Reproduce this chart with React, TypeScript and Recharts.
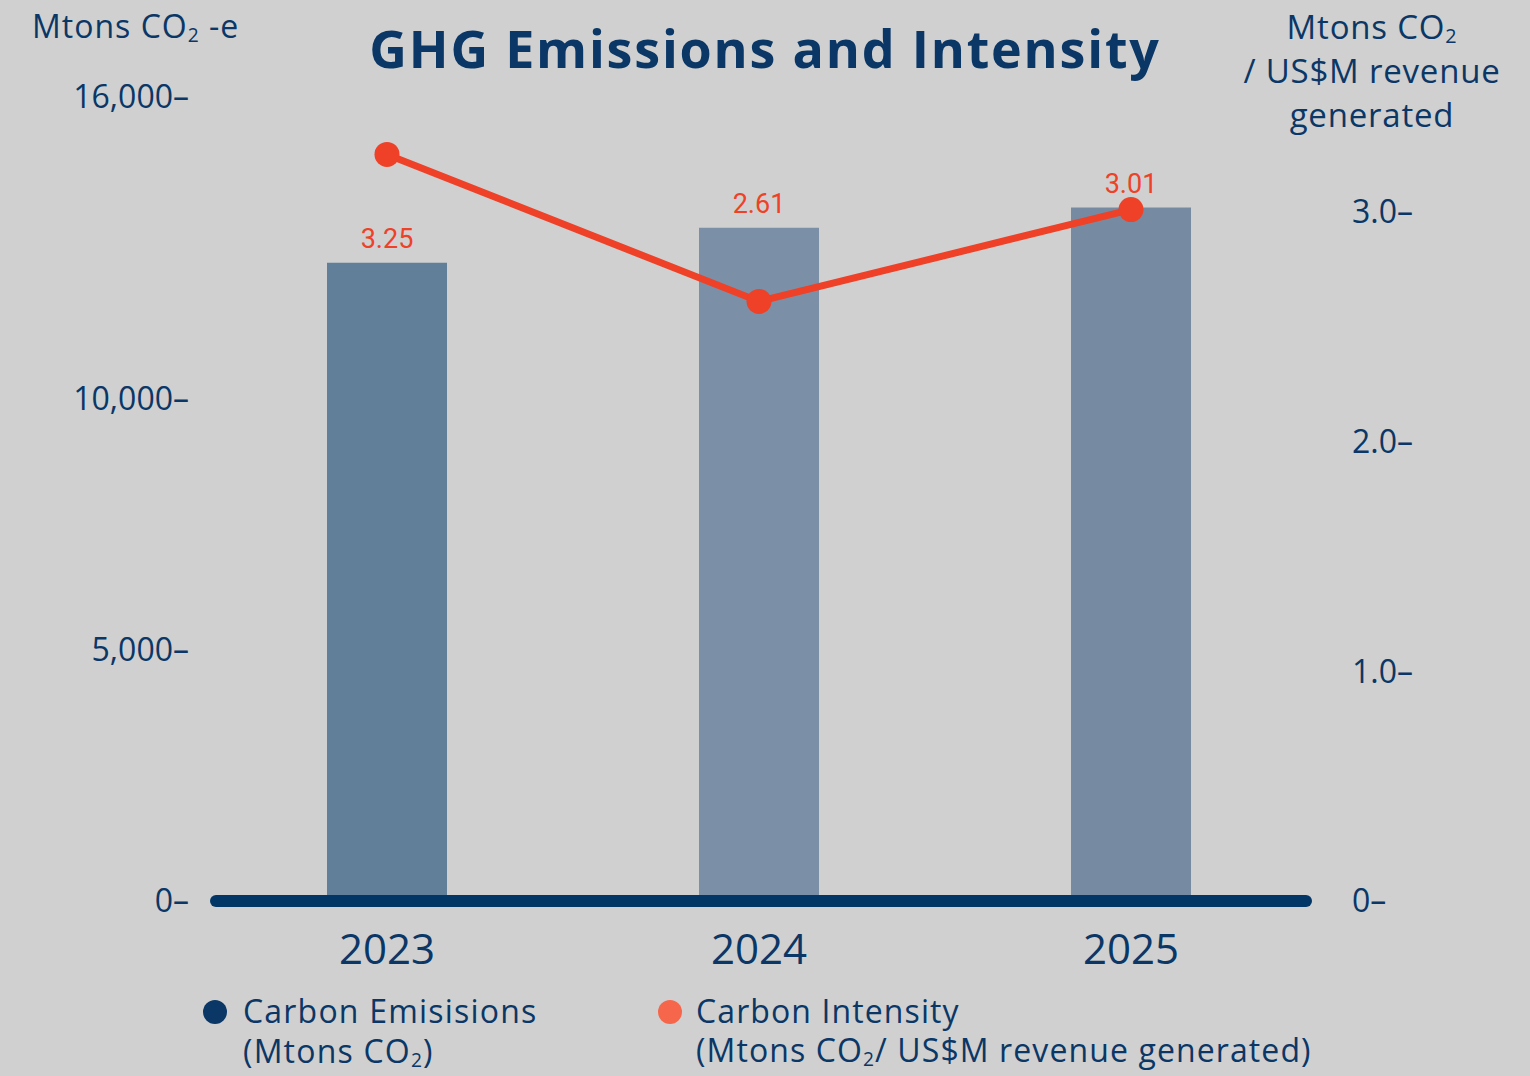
import React from "react";
import {
  Bar,
  Cell,
  ComposedChart,
  LabelList,
  Legend,
  Line,
  ReferenceLine,
  XAxis,
  YAxis,
} from "recharts";

const years = ["2023", "2024", "2025"];
const emissions = [12700, 13400, 13800];
const intensity = [3.25, 2.61, 3.01];
const leftTicks = [0, 5000, 10000, 16000];
const rightTicks = [0, 1, 2, 3];

const data = years.map((year, i) => ({
  year,
  emissions: emissions[i],
  intensity: intensity[i],
}));

const navy = "#0a3766";
const red = "#ee4128";
const barColors = ["#627f9a", "#7b90a6", "#768ba2"];
const font = "'Open Sans', sans-serif";

const Sub = ({ children }: { children: React.ReactNode }) => (
  <span style={{ fontSize: "0.6em", verticalAlign: "-0.2em", lineHeight: 0 }}>{children}</span>
);

const Baseline = (p: any) => (
  <line
    x1={p.x1 + 15}
    y1={p.y1}
    x2={p.x2 - 11}
    y2={p.y2}
    stroke="#023667"
    strokeWidth={12}
    strokeLinecap="round"
  />
);

const LegendBox = () => (
  <div style={{ position: "relative", width: 1530, height: 91, fontFamily: font, color: navy }}>
    <div style={{ position: "absolute", left: 203, top: 15, width: 24, height: 24, borderRadius: 12, background: navy }} />
    <div style={{ position: "absolute", left: 243, top: 6, fontSize: 32, lineHeight: "40px", letterSpacing: 1.2 }}>
      Carbon Emisisions
      <br />
      (Mtons CO<Sub>2</Sub>)
    </div>
    <div style={{ position: "absolute", left: 658, top: 15, width: 24, height: 24, borderRadius: 12, background: "#f5664b" }} />
    <div style={{ position: "absolute", left: 696, top: 6, fontSize: 32, lineHeight: "39px", letterSpacing: 1.1 }}>
      Carbon Intensity
      <br />
      (Mtons CO<Sub>2</Sub>/ US$M revenue generated)
    </div>
  </div>
);

export default function App() {
  return (
    <div
      style={{
        position: "absolute",
        left: 0,
        top: 0,
        width: 1530,
        height: 1076,
        background: "#d0d0d0",
        overflow: "hidden",
      }}
    >
      <ComposedChart
        width={1530}
        height={1076}
        data={data}
        margin={{ top: 97, right: 63, bottom: 95, left: 21 }}
        style={{ fontFamily: font }}
      >
        <XAxis
          dataKey="year"
          axisLine={false}
          tickLine={false}
          tickSize={0}
          tickMargin={33}
          height={80}
          tick={{ fill: navy, fontSize: 42 }}
        />
        <YAxis
          yAxisId="left"
          domain={[0, 16000]}
          ticks={leftTicks}
          interval={0}
          width={180}
          axisLine={false}
          tickLine={false}
          tickSize={0}
          tickMargin={12}
          tick={{ fill: navy, fontSize: 32 }}
          tickFormatter={(v) => `${Number(v).toLocaleString("en-US")}–`}
        />
        <YAxis
          yAxisId="right"
          orientation="right"
          domain={[0, 3.5]}
          ticks={rightTicks}
          interval={0}
          width={150}
          axisLine={false}
          tickLine={false}
          tickSize={0}
          tickMargin={35}
          tick={{ fill: navy, fontSize: 32, textAnchor: "start" }}
          tickFormatter={(v) => (v === 0 ? "0–" : `${Number(v).toFixed(1)}–`)}
        />
        <Bar yAxisId="left" dataKey="emissions" barSize={120} isAnimationActive={false}>
          {data.map((d, i) => (
            <Cell key={d.year} fill={barColors[i]} />
          ))}
          <LabelList
            dataKey="intensity"
            position="top"
            offset={15}
            fill={red}
            fontSize={27}
            fontFamily="Roboto, sans-serif"
          />
        </Bar>
        <ReferenceLine yAxisId="left" y={0} shape={Baseline} />
        <Line
          yAxisId="right"
          dataKey="intensity"
          stroke={red}
          strokeWidth={7}
          dot={{ r: 12.5, fill: red, stroke: red, strokeWidth: 0 }}
          activeDot={false}
          isAnimationActive={false}
        />
        <Legend
          layout="horizontal"
          verticalAlign="middle"
          align="center"
          content={() => <LegendBox />}
          wrapperStyle={{ left: 0, top: 985, width: 1530, height: 91 }}
        />
      </ComposedChart>

      <div
        style={{
          position: "absolute",
          left: 0,
          width: 1530,
          top: 14,
          textAlign: "center",
          fontFamily: font,
          fontWeight: 700,
          fontSize: 52,
          letterSpacing: 1.8,
          color: navy,
          lineHeight: "68px",
        }}
      >
        GHG Emissions and Intensity
      </div>
      <div
        style={{
          position: "absolute",
          left: 32,
          top: 5,
          fontFamily: font,
          fontSize: 32,
          letterSpacing: 1,
          color: navy,
          lineHeight: "42px",
        }}
      >
        Mtons CO<Sub>2</Sub> -e
      </div>
      <div
        style={{
          position: "absolute",
          left: 1220,
          width: 304,
          top: 5,
          textAlign: "center",
          fontFamily: font,
          fontSize: 33,
          letterSpacing: 0.8,
          color: navy,
          lineHeight: "44px",
        }}
      >
        Mtons CO<Sub>2</Sub>
        <br />/ US$M revenue
        <br />
        generated
      </div>
    </div>
  );
}
